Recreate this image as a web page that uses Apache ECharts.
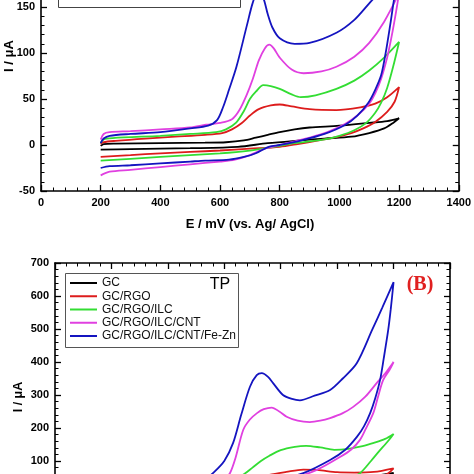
<!DOCTYPE html>
<html><head><meta charset="utf-8">
<script src="https://cdn.jsdelivr.net/npm/echarts@6/dist/echarts.min.js"></script>
<style>html,body{margin:0;padding:0;background:#fff;overflow:hidden;width:474px;height:474px}
#c{position:absolute;left:0;top:-60px;width:474px;height:594px}</style>
</head><body><div id="c"></div>
<script>
// ---- names / styles ----
const seriesNames = ['GC','GC/RGO','GC/RGO/ILC','GC/RGO/ILC/CNT','GC/RGO/ILC/CNT/Fe-Zn'];
const seriesColors = ['#000000','#dd1c1c','#33dd33','#e040e0','#1414c0'];

// ---- axis ranges (E in mV, I in uA) ----
const xRange = [0, 1400, 200];
const yRangeA = [-50, 200, 50];
const yRangeB = [0, 700, 100];

// ---- Panel A: [E, I] in scan order (forward then reverse) ----
const A_GC = [[200,-1],[210,1],[250,1.5],[400,2],[550,2.5],[620,3],[680,5],[720,8],[760,11],[800,14],[850,17],[900,19],[1000,21],[1100,24],[1160,26],[1200,29],
  [1180,24],[1150,18],[1100,13],[1040,9],[950,7],[870,5],[760,2],[660,-2],[500,-3.5],[300,-4.5],[200,-5]];
const A_RGO = [[200,1],[210,3],[250,4.5],[350,7],[450,9],[550,11],[607,13],[640,17],[673,24],[700,32],[730,39],[770,43],[800,44],[840,42],[900,39],[990,38],[1070,41],[1120,45],[1160,52],[1200,63],
  [1185,47],[1160,36],[1120,25],[1080,18],[1040,13],[980,8],[930,5],[860,1],[800,-2],[700,-4],[600,-6],[500,-7.5],[400,-9],[300,-11],[200,-13]];
const A_ILC = [[200,2],[210,6],[240,7.5],[400,10],[500,12],[587,14],[620,17],[653,24],[680,37],[700,50],[720,58],[745,65],[770,64],[800,61],[840,55],[870,52],[920,54],[990,61],[1050,70],[1100,81],[1150,95],[1200,112],
  [1180,85],[1160,62],[1140,46],[1120,35],[1090,24],[1050,16],[1000,10],[950,6],[850,2],[780,-2],[700,-6],[600,-9],[400,-13],[300,-15],[200,-17]];
const A_CNT = [[200,6],[210,12],[230,14],[300,15],[400,17],[500,19],[553,22],[600,24],[640,28],[665,38],[690,55],[710,72],[730,92],[750,105],[765,109],[780,105],[800,95],[840,82],[880,78],[940,80],[990,85],[1050,96],[1100,111],[1150,134],[1200,165],
  [1190,145],[1175,118],[1160,95],[1140,72],[1120,56],[1100,45],[1060,32],[1020,23],[960,14],[900,8],[850,4],[800,0],[750,-4],[700,-11],[650,-16],[600,-18],[500,-21],[400,-24],[300,-27],[230,-29],[200,-33]];
const A_FeZn = [[200,2],[210,7],[230,10],[300,12],[400,14],[500,18],[560,21],[590,27],[610,41],[630,60],[655,85],[690,130],[710,155],[728,168],[745,160],[760,142],[775,128],[800,116],[850,110],[900,111],[990,122],[1050,136],[1100,154],[1150,172],[1200,192],
  [1190,170],[1183,158],[1170,130],[1155,100],[1140,76],[1120,60],[1097,46],[1060,32],[1020,22],[950,12],[873,5],[800,0],[763,-2],[720,-9],[680,-13],[630,-16],[550,-17],[500,-18],[400,-20],[300,-22],[230,-23],[200,-25]];

// ---- Panel B ----
const B_GC = [[200,5],[400,8],[600,12],[800,25],[1000,40],[1100,50],[1200,64],
  [1150,40],[1000,22],[800,12],[600,5],[400,2],[200,0]];
const B_RGO = [[200,8],[400,12],[600,22],[700,42],[760,58],[820,67],[880,74],[930,73],[1000,66],[1060,65],[1130,67],[1200,78],
  [1180,62],[1150,48],[1100,35],[1000,22],[900,15],[800,10],[600,2],[400,1],[200,0]];
const B_ILC = [[200,10],[400,15],[550,22],[620,35],[673,62],[700,80],[730,100],[760,116],[800,133],[850,143],[890,146],[940,141],[990,134],[1040,137],[1090,145],[1130,155],[1170,167],[1200,182],
  [1185,165],[1170,150],[1152,133],[1120,100],[1081,63],[1040,45],[950,28],[850,18],[700,8],[500,2],[200,0]];
const B_CNT = [[200,15],[400,22],[550,32],[600,45],[620,63],[640,110],[667,194],[690,225],[716,245],[740,257],[768,262],[795,250],[821,234],[860,222],[903,218],[940,222],[975,230],[1020,245],[1057,264],[1100,295],[1140,336],[1170,365],[1200,400],
  [1185,375],[1163,345],[1145,295],[1128,245],[1100,195],[1081,164],[1050,135],[1010,112],[928,73],[850,50],[750,32],[600,18],[400,8],[200,2]];
const B_FeZn = [[200,15],[400,25],[500,35],[540,50],[560,63],[600,100],[631,154],[660,240],[691,325],[715,360],[733,366],[755,355],[773,336],[808,300],[840,288],[868,284],[920,298],[975,315],[1020,350],[1070,397],[1124,497],[1160,565],[1200,642],
  [1190,560],[1181,497],[1165,410],[1152,345],[1135,290],[1117,245],[1095,205],[1070,173],[1030,135],[975,103],[880,63],[800,45],[700,30],[500,15],[200,5]];

const panelA = [A_GC, A_RGO, A_ILC, A_CNT, A_FeZn];
const panelB = [B_GC, B_RGO, B_ILC, B_CNT, B_FeZn];

const FONT = 'Liberation Sans, Arial, sans-serif';
const OFF = 60; // container is shifted up by this many px

function axis(range, extra, showLabel) {
  return Object.assign({
    type: 'value', min: range[0], max: range[1], interval: range[2],
    axisLine: {show: true, onZero: false, lineStyle: {color: '#000', width: 1.6}},
    axisTick: {show: true, inside: true, length: 6, lineStyle: {color: '#000', width: 1.3}},
    minorTick: {show: true, splitNumber: 5, length: 3.5, lineStyle: {color: '#000', width: 1}},
    splitLine: {show: false}, minorSplitLine: {show: false},
    axisLabel: {show: showLabel, fontSize: 11, fontWeight: 'bold', color: '#000', margin: 6, fontFamily: FONT,
      formatter: v => String(v)}
  }, extra);
}

const series = [];
panelA.forEach((d, i) => series.push({
  name: seriesNames[i], type: 'line', xAxisIndex: 0, yAxisIndex: 0, data: d,
  showSymbol: false, symbol: 'none', smooth: 0.3, lineStyle: {width: 1.8, color: seriesColors[i]},
  itemStyle: {color: seriesColors[i]}
}));
panelB.forEach((d, i) => series.push({
  name: seriesNames[i], type: 'line', xAxisIndex: 2, yAxisIndex: 2, data: d,
  showSymbol: false, symbol: 'none', smooth: 0.3, lineStyle: {width: 1.8, color: seriesColors[i]},
  itemStyle: {color: seriesColors[i]}
}));

const chart = echarts.init(document.getElementById('c'), null, {renderer: 'canvas'});
chart.setOption({
  animation: false,
  backgroundColor: '#fff',
  grid: [
    {left: 41, right: 14, top: -39 + OFF, bottom: 594 - (191 + OFF)},
    {left: 55, right: 24, top: 263 + OFF, bottom: 594 - (494 + OFF)}
  ],
  xAxis: [
    axis(xRange, {gridIndex: 0, position: 'bottom'}, true),
    axis(xRange, {gridIndex: 0, position: 'top'}, false),
    axis(xRange, {gridIndex: 1, position: 'bottom'}, true),
    axis(xRange, {gridIndex: 1, position: 'top'}, false)
  ],
  yAxis: [
    axis(yRangeA, {gridIndex: 0, position: 'left'}, true),
    axis(yRangeA, {gridIndex: 0, position: 'right'}, false),
    axis(yRangeB, {gridIndex: 1, position: 'left'}, true),
    axis(yRangeB, {gridIndex: 1, position: 'right'}, false)
  ],
  legend: {
    data: seriesNames, orient: 'vertical', left: 70, top: 276.5 + OFF, padding: 0,
    itemGap: 0.25, itemWidth: 27, itemHeight: 2, icon: 'rect',
    textStyle: {fontSize: 12, lineHeight: 13, color: '#111', fontFamily: FONT}
  },
  graphic: [
    {type: 'rect', shape: {x: 58.5, y: -80 + OFF, width: 182, height: 87.5}, style: {fill: 'none', stroke: '#444', lineWidth: 1}},
    {type: 'rect', shape: {x: 65.5, y: 273.5 + OFF, width: 173, height: 74}, style: {fill: 'none', stroke: '#555', lineWidth: 1}},
    {type: 'text', x: 220, y: 285 + OFF, style: {text: 'TP', fontSize: 16, fontFamily: FONT, fill: '#000', align: 'center', verticalAlign: 'middle'}},
    {type: 'text', x: 420, y: 285 + OFF, style: {text: '(B)', fontSize: 20, fontWeight: 'bold', fontFamily: 'Liberation Serif, Times New Roman, serif', fill: '#e02020', align: 'center', verticalAlign: 'middle'}},
    {type: 'text', x: 250, y: 224 + OFF, style: {text: 'E / mV (vs. Ag/ AgCl)', fontSize: 13, fontWeight: 'bold', fontFamily: FONT, fill: '#000', align: 'center', verticalAlign: 'middle'}},
    {type: 'text', x: 9, y: 56 + OFF, rotation: Math.PI / 2, style: {text: 'I / μA', fontSize: 13, fontWeight: 'bold', fontFamily: FONT, fill: '#000', align: 'center', verticalAlign: 'middle'}},
    {type: 'text', x: 19, y: 397 + OFF, rotation: Math.PI / 2, style: {text: 'I / μA', fontSize: 12.5, fontWeight: 'bold', fontFamily: FONT, fill: '#000', align: 'center', verticalAlign: 'middle'}}
  ],
  series: series
});
</script>
</body></html>
